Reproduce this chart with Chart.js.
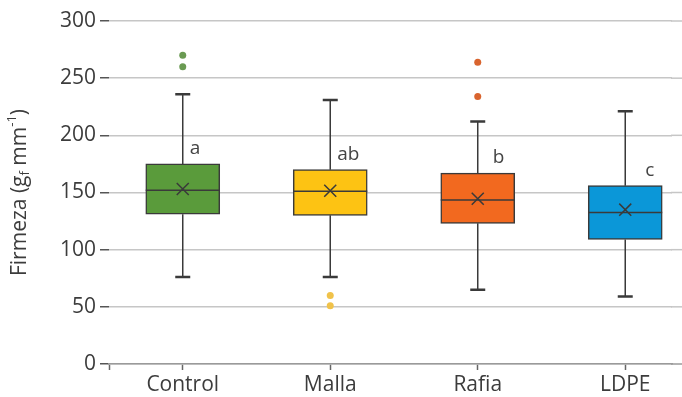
<!DOCTYPE html>
<html>
<head>
<meta charset="utf-8">
<script src="https://cdn.jsdelivr.net/npm/chart.js@4"></script>
<style>
  html, body { margin: 0; padding: 0; background: #fff; overflow: hidden; }
  canvas { display: block; }
</style>
</head>
<body>
<canvas id="boxChart" width="682" height="397"></canvas>
<script>
// values (g_f mm-1)
const groups = ['Control', 'Malla', 'Rafia', 'LDPE'];
const whiskerLow = [76, 76, 65, 59];
const q1 = [131, 130, 123, 109];
const medians = [152, 151, 143.5, 132.5];
const q3 = [175, 170, 167, 156];
const whiskerHigh = [236, 231, 212, 221];
const means = [153, 151.5, 144.5, 135];
const outliers = [[260, 270], [51, 60], [234, 264], []];
const letters = ['a', 'ab', 'b', 'c'];
const yTicks = [0, 50, 100, 150, 200, 250, 300];

const boxColors = ['#5a9b3b', '#fdc313', '#f2691f', '#0b97d8'];
const dotColors = ['#6a9a52', '#f0c24a', '#d9642e', '#0b97d8'];
const letterDx = [7, 7, 15, 20];
const ink = '#3a3a3a';
const font = "'Open Sans', 'Noto Sans', sans-serif";

const outlierPoints = [];
const outlierColors = [];
outliers.forEach(function (list, i) {
    list.forEach(function (v) {
        outlierPoints.push({ x: i, y: v });
        outlierColors.push(dotColors[i]);
    });
});

// the gridlines run out to the right edge of the picture
const gridTailPlugin = {
    id: 'gridTail',
    beforeDatasetsDraw(chart) {
        const ctx = chart.ctx;
        const ys = chart.scales.y;
        const right = chart.chartArea.right;
        ctx.save();
        ctx.lineWidth = 1.5;
        yTicks.forEach(function (v) {
            const y = ys.getPixelForValue(v);
            ctx.strokeStyle = v === 0 ? '#9a9a9a' : '#c6c6c6';
            ctx.beginPath();
            ctx.moveTo(right - 1, y);
            ctx.lineTo(chart.width, y);
            ctx.stroke();
        });
        ctx.restore();
    }
};

const whiskerPlugin = {
    id: 'whiskers',
    afterDatasetsDraw(chart) {
        const ctx = chart.ctx;
        const xs = chart.scales.x;
        const ys = chart.scales.y;
        ctx.save();
        ctx.strokeStyle = ink;
        ctx.lineWidth = 1.5;
        groups.forEach(function (g, i) {
            const x = xs.getPixelForValue(i);
            const half = 37;
            ctx.beginPath();
            ctx.moveTo(x, ys.getPixelForValue(q3[i]));
            ctx.lineTo(x, ys.getPixelForValue(whiskerHigh[i]));
            ctx.moveTo(x, ys.getPixelForValue(q1[i]));
            ctx.lineTo(x, ys.getPixelForValue(whiskerLow[i]));
            ctx.stroke();
            ctx.lineWidth = 2.5;
            ctx.beginPath();
            ctx.moveTo(x - 7.5, ys.getPixelForValue(whiskerHigh[i]));
            ctx.lineTo(x + 7.5, ys.getPixelForValue(whiskerHigh[i]));
            ctx.moveTo(x - 7.5, ys.getPixelForValue(whiskerLow[i]));
            ctx.lineTo(x + 7.5, ys.getPixelForValue(whiskerLow[i]));
            ctx.stroke();
            ctx.lineWidth = 1.5;
            ctx.beginPath();
            ctx.moveTo(x - half, ys.getPixelForValue(medians[i]));
            ctx.lineTo(x + half, ys.getPixelForValue(medians[i]));
            ctx.stroke();

            // significance letters
            ctx.fillStyle = '#444';
            ctx.font = '19px ' + font;
            ctx.textAlign = 'left';
            ctx.textBaseline = 'middle';
            ctx.fillText(letters[i], x + letterDx[i], ys.getPixelForValue(q3[i]) - 15);
        });
        ctx.restore();
    }
};

const yTitlePlugin = {
    id: 'yTitle',
    afterDraw(chart) {
        const ctx = chart.ctx;
        const area = chart.chartArea;
        const big = '21px ' + font;
        const small = '13px ' + font;
        const parts = [
            { t: 'Firmeza (g', f: big, dy: 0 },
            { t: 'f', f: small, dy: 5 },
            { t: ' mm', f: big, dy: 0 },
            { t: '-1', f: small, dy: -8 },
            { t: ')', f: big, dy: 0 }
        ];
        ctx.save();
        let total = 0;
        parts.forEach(function (p) { ctx.font = p.f; p.w = ctx.measureText(p.t).width; total += p.w; });
        ctx.translate(20, (area.top + area.bottom) / 2);
        ctx.rotate(-Math.PI / 2);
        ctx.fillStyle = '#3c3c3c';
        ctx.textBaseline = 'middle';
        ctx.textAlign = 'left';
        let pos = -total / 2;
        parts.forEach(function (p) {
            ctx.font = p.f;
            ctx.fillText(p.t, pos, p.dy);
            pos += p.w;
        });
        ctx.restore();
    }
};

const ctx = document.getElementById('boxChart').getContext('2d');
new Chart(ctx, {
    type: 'bar',
    data: {
        datasets: [
            {
                type: 'scatter',
                label: 'Media',
                data: means.map(function (v, i) { return { x: i, y: v }; }),
                pointStyle: 'crossRot',
                pointRadius: 8.5,
                pointHoverRadius: 8.5,
                borderColor: ink,
                borderWidth: 1.5,
                order: 0
            },
            {
                type: 'scatter',
                label: 'Atípicos',
                data: outlierPoints,
                pointRadius: 3.5,
                pointBackgroundColor: outlierColors,
                pointBorderColor: outlierColors,
                pointBorderWidth: 0,
                order: 1
            },
            {
                label: 'Caja',
                data: groups.map(function (g, i) { return { x: i, y: [q1[i], q3[i]] }; }),
                backgroundColor: boxColors,
                borderColor: ink,
                borderWidth: 1.5,
                borderSkipped: false,
                barThickness: 74,
                order: 2
            }
        ]
    },
    options: {
        responsive: false,
        animation: false,
        layout: { padding: { top: 21, right: 0, left: 0, bottom: 0 } },
        plugins: {
            legend: { display: false },
            tooltip: { enabled: false }
        },
        scales: {
            x: {
                type: 'linear',
                offset: false,
                min: -0.5,
                max: 3.317,
                afterBuildTicks: function (scale) {
                    scale.ticks = [-0.5, 0, 1, 2, 3].map(function (v) { return { value: v }; });
                },
                afterFit: function (scale) {
                    scale.height = 33;
                    scale.paddingLeft = 0;
                    scale.paddingRight = 0;
                },
                grid: {
                    offset: false,
                    drawOnChartArea: false,
                    drawTicks: true,
                    tickLength: 6,
                    tickColor: '#666',
                    tickWidth: 1.5
                },
                border: { display: true, color: '#9a9a9a', width: 1.5 },
                ticks: {
                    autoSkip: false,
                    maxRotation: 0,
                    padding: 2,
                    color: '#3c3c3c',
                    font: { family: font, size: 21 },
                    callback: function (v) { return Number.isInteger(v) ? groups[v] : ''; }
                }
            },
            y: {
                min: 0,
                max: 300,
                afterBuildTicks: function (scale) {
                    scale.ticks = yTicks.map(function (v) { return { value: v }; });
                },
                afterFit: function (scale) { scale.width = 109; },
                grid: {
                    color: '#c6c6c6',
                    lineWidth: 1.5,
                    tickLength: 9,
                    tickColor: '#555',
                    tickWidth: 1.5
                },
                border: { display: false },
                ticks: {
                    padding: 4,
                    color: '#3c3c3c',
                    font: { family: font, size: 21 }
                }
            }
        }
    },
    plugins: [gridTailPlugin, whiskerPlugin, yTitlePlugin]
});
</script>
</body>
</html>
